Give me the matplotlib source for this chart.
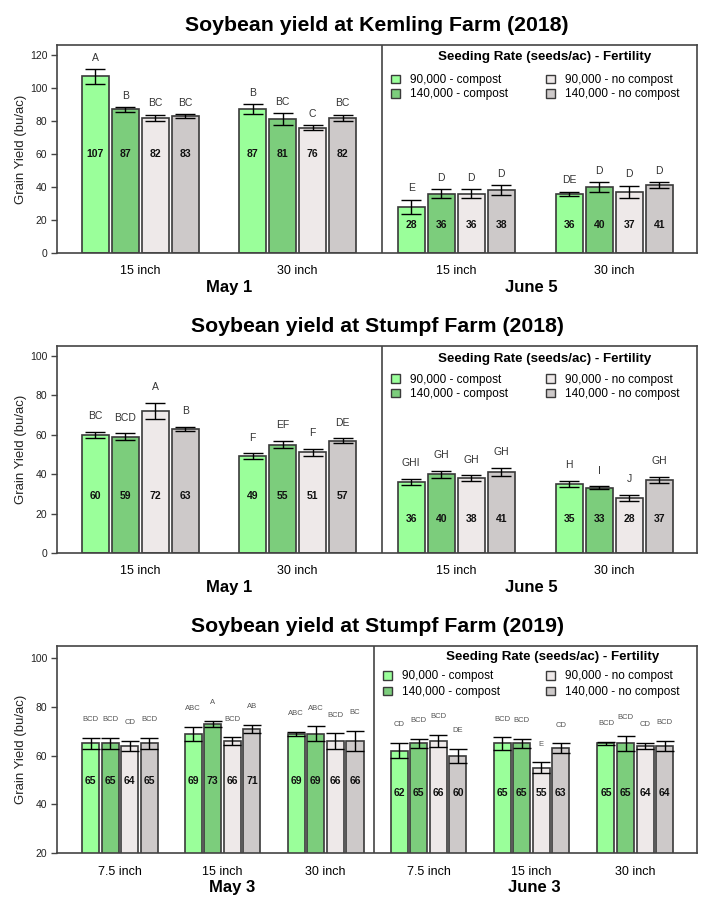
import matplotlib.pyplot as plt
from matplotlib.patches import Patch
import numpy as np

plt.rcParams['font.family'] = ['Liberation Sans', 'DejaVu Sans']

TREATMENTS = ['90,000 - compost', '140,000 - compost', '90,000 - no compost', '140,000 - no compost']
COLORS = ['#9AFF9A', '#7CCD7C', '#EEE9E9', '#CDC9C9']

# Kemling Farm 2018 (4 bars per row spacing, 15 inch then 30 inch)
kem18_spacing = ['15 inch', '30 inch']
kem18_may_mean = [107, 87, 82, 83, 87, 81, 76, 82]
kem18_may_err = [4.5, 1.4, 1.8, 1.1, 3.0, 3.6, 1.3, 1.8]
kem18_may_let = ['A', 'B', 'BC', 'BC', 'B', 'BC', 'C', 'BC']
kem18_jun_mean = [28, 36, 36, 38, 36, 40, 37, 41]
kem18_jun_err = [4.4, 2.8, 2.8, 3.1, 1.2, 3.0, 3.8, 1.8]
kem18_jun_let = ['E', 'D', 'D', 'D', 'DE', 'D', 'D', 'D']

# Stumpf Farm 2018
stu18_spacing = ['15 inch', '30 inch']
stu18_may_mean = [60, 59, 72, 63, 49, 55, 51, 57]
stu18_may_err = [1.5, 1.6, 4.2, 1.0, 1.5, 2.0, 1.6, 1.1]
stu18_may_let = ['BC', 'BCD', 'A', 'B', 'F', 'EF', 'F', 'DE']
stu18_jun_mean = [36, 40, 38, 41, 35, 33, 28, 37]
stu18_jun_err = [1.4, 1.8, 1.4, 2.0, 1.4, 0.8, 1.4, 1.6]
stu18_jun_let = ['GHI', 'GH', 'GH', 'GH', 'H', 'I', 'J', 'GH']

# Stumpf Farm 2019
stu19_spacing = ['7.5 inch', '15 inch', '30 inch']
stu19_may_mean = [65, 65, 64, 65, 69, 73, 66, 71, 69, 69, 66, 66]
stu19_may_err = [2.4, 2.4, 2.1, 2.3, 2.8, 1.4, 1.5, 1.7, 0.8, 3.0, 3.1, 4.0]
stu19_may_let = ['BCD', 'BCD', 'CD', 'BCD', 'ABC', 'A', 'BCD', 'AB', 'ABC', 'ABC', 'BCD', 'BC']
stu19_jun_mean = [62, 65, 66, 60, 65, 65, 55, 63, 65, 65, 64, 64]
stu19_jun_err = [3.1, 1.9, 2.4, 2.9, 2.5, 2.0, 2.2, 2.0, 0.7, 3.0, 1.1, 2.2]
stu19_jun_let = ['CD', 'BCD', 'BCD', 'DE', 'BCD', 'BCD', 'E', 'CD', 'BCD', 'BCD', 'CD', 'BCD']

EDGE = '#3a3a3a'


def draw_half(ax, centers, means, errs, letters, width, label_y, let_off, capsize, let_size, let_color):
    for g, c in enumerate(centers):
        for i in range(4):
            k = g * 4 + i
            x = c + (i - 1.5)
            ax.bar(x, means[k], width=width, color=COLORS[i], edgecolor=EDGE, linewidth=1.2, zorder=2)
            ax.errorbar(x, means[k], yerr=errs[k], fmt='none', ecolor='black', elinewidth=1,
                        capsize=capsize, capthick=1, zorder=3)
            ax.text(x, label_y, str(means[k]), ha='center', va='center', fontsize=7.5,
                    fontweight='bold', color='#111111', zorder=4)
            ax.text(x, means[k] + errs[k] + let_off, letters[k], ha='center', va='center',
                    fontsize=let_size, color=let_color, zorder=4)


def draw_panel(ax, title, spacing, left, right, layout):
    ax.set_xlim(0, layout['xmax'])
    ax.set_ylim(*layout['ylim'])
    ax.set_yticks(layout['yticks'])
    for s in ax.spines.values():
        s.set_color('#444444')
        s.set_linewidth(1.2)
    ax.tick_params(axis='y', length=4, width=1, color='#444444', labelsize=7.5, pad=3,
                   labelcolor='#222222')
    ax.tick_params(axis='x', length=0, labelsize=9, pad=9)
    ax.axvline(layout['divider'], color='#444444', linewidth=1.2)

    halves = [layout['left_centers'], layout['right_centers']]
    for centers, data, ly in zip(halves, [left, right], layout['label_y']):
        draw_half(ax, centers, data[0], data[1], data[2], layout['width'], ly,
                  layout['let_off'], layout['capsize'], layout['let_size'], layout['let_color'])

    ticks = list(layout['left_centers']) + list(layout['right_centers'])
    ax.set_xticks(ticks, spacing + spacing)

    for x, d in zip(layout['date_x'], [left[3], right[3]]):
        ax.annotate(d, xy=(x, 0), xycoords=('data', 'axes fraction'), xytext=(0, -25),
                    textcoords='offset points', ha='center', va='center', fontsize=12,
                    fontweight='bold')

    ax.set_ylabel('Grain Yield (bu/ac)', fontsize=9.5, color='#222222')
    ax.yaxis.set_label_coords(-0.047, 0.5)
    ax.set_title(title, fontsize=15.3, fontweight='bold', pad=10)

    # legend in the right half
    ax.text(layout['leg_title'][0], layout['leg_title'][1], 'Seeding Rate (seeds/ac) - Fertility',
            transform=ax.transAxes, ha='center', va='center', fontsize=9.6, fontweight='bold')
    handles = [Patch(facecolor=c, edgecolor=EDGE, linewidth=1) for c in COLORS]
    ax.legend(handles, TREATMENTS, ncol=2, loc='upper left',
              bbox_to_anchor=layout['leg_anchor'], bbox_transform=ax.transAxes,
              frameon=False, fontsize=8.5, borderpad=0, borderaxespad=0,
              handlelength=0.75, handleheight=0.75, handletextpad=0.85,
              columnspacing=layout['colspace'], labelspacing=layout['rowspace'])


layout18 = dict(xmax=21.33, divider=10.83, left_centers=[2.77, 8.02], right_centers=[13.3, 18.57],
                width=0.9, capsize=7.5, let_size=7.5, let_color='#333333',
                date_x=[5.73, 15.8], colspace=3.2, rowspace=0.2)

fig = plt.figure(figsize=(7.2, 9), dpi=100)

ax1 = fig.add_axes([0.0792, 0.7189, 0.889, 0.2311])
draw_panel(ax1, 'Soybean yield at Kemling Farm (2018)', kem18_spacing,
           (kem18_may_mean, kem18_may_err, kem18_may_let, 'May 1'),
           (kem18_jun_mean, kem18_jun_err, kem18_jun_let, 'June 5'),
           dict(layout18, ylim=(0, 126), yticks=np.arange(0, 121, 20), label_y=[60, 17], let_off=6.8,
                leg_title=(0.7625, 0.942), leg_anchor=(0.522, 0.86)))

ax2 = fig.add_axes([0.0792, 0.3856, 0.889, 0.23])
draw_panel(ax2, 'Soybean yield at Stumpf Farm (2018)', stu18_spacing,
           (stu18_may_mean, stu18_may_err, stu18_may_let, 'May 1'),
           (stu18_jun_mean, stu18_jun_err, stu18_jun_let, 'June 5'),
           dict(layout18, ylim=(0, 105), yticks=np.arange(0, 101, 20), label_y=[29, 17], let_off=8,
                leg_title=(0.7625, 0.935), leg_anchor=(0.522, 0.865)))

ax3 = fig.add_axes([0.0792, 0.0522, 0.889, 0.23])
draw_panel(ax3, 'Soybean yield at Stumpf Farm (2019)', stu19_spacing,
           (stu19_may_mean, stu19_may_err, stu19_may_let, 'May 3'),
           (stu19_jun_mean, stu19_jun_err, stu19_jun_let, 'June 3'),
           dict(xmax=32.65, divider=16.17, left_centers=[3.21, 8.44, 13.7],
                right_centers=[18.95, 24.2, 29.5], width=0.87, capsize=6.5, let_size=5.5,
                let_color='#555555', date_x=[8.93, 24.34], colspace=3.85, rowspace=0.3,
                leg_title=(0.775, 0.948), leg_anchor=(0.51, 0.882),
                ylim=(20, 105), yticks=np.arange(20, 101, 20), label_y=[49.5, 44.5], let_off=7.5))

fig.savefig('out.png', dpi=100)
